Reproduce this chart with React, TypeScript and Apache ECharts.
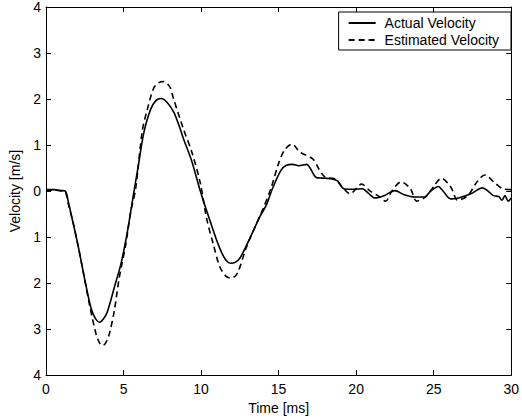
import React, { useEffect, useRef } from "react";
import * as echarts from "echarts";

const seriesNames = ["Actual Velocity", "Estimated Velocity"];
const xTickLabels = ["0", "5", "10", "15", "20", "25", "30"];
const yTickLabels = ["4", "3", "2", "1", "0", "1", "2", "3", "4"];

const actualVelocity: [number, number][] = [
  [0, 0.03], [0.5, 0.03], [1.0, 0.01], [1.25, 0.0], [1.45, -0.25], [1.63, -0.52],
  [2.06, -1.17], [2.48, -1.89], [2.9, -2.54], [3.2, -2.78], [3.44, -2.85], [3.7, -2.78],
  [3.97, -2.61], [4.4, -2.1], [4.82, -1.6], [5.25, -0.88], [5.67, -0.02], [6.0, 0.65],
  [6.31, 1.27], [6.74, 1.77], [7.1, 1.97], [7.42, 2.01], [7.8, 1.93], [8.23, 1.72],
  [8.55, 1.45], [8.87, 1.13], [9.4, 0.65], [9.95, 0.0], [10.6, -0.67], [11.2, -1.24],
  [11.6, -1.5], [11.9, -1.57], [12.2, -1.55], [12.5, -1.46], [12.9, -1.2], [13.35, -0.88],
  [13.8, -0.55], [14.2, -0.31], [14.6, 0.05], [15.15, 0.45], [15.5, 0.56], [15.9, 0.58],
  [16.3, 0.55], [16.8, 0.58], [17.4, 0.3], [17.8, 0.28], [18.3, 0.27], [18.8, 0.22],
  [19.2, 0.05], [19.8, 0.04], [20.4, 0.05], [20.8, -0.05], [21.2, -0.15], [21.8, -0.1],
  [22.5, 0.01], [23.1, -0.08], [23.8, -0.13], [24.4, -0.13], [24.8, 0.0], [25.3, 0.1],
  [25.6, 0.0], [26.1, -0.17], [26.6, -0.15], [27.4, -0.06], [28.15, 0.07], [28.5, 0.0],
  [28.85, -0.1], [29.2, -0.12], [29.4, -0.2], [29.6, -0.1], [29.8, -0.22], [30, -0.15],
];

const estimatedVelocity: [number, number][] = [
  [0, 0.02], [0.5, 0.02], [1.0, 0.0], [1.25, -0.02], [1.45, -0.3], [1.74, -0.67],
  [2.27, -1.53], [2.8, -2.46], [3.23, -3.11], [3.45, -3.3], [3.65, -3.36], [3.85, -3.3],
  [4.08, -3.11], [4.4, -2.61], [4.72, -1.89], [5.14, -1.17], [5.46, -0.45], [5.78, 0.05],
  [6.21, 1.31], [6.53, 1.77], [6.95, 2.24], [7.3, 2.36], [7.6, 2.38], [7.85, 2.32],
  [8.02, 2.24], [8.23, 2.0], [8.87, 1.34], [9.4, 0.85], [9.94, 0.19], [10.36, -0.6],
  [10.8, -1.17], [11.2, -1.64], [11.6, -1.85], [11.9, -1.89], [12.2, -1.85], [12.4, -1.75],
  [12.9, -1.24], [13.35, -0.88], [14.0, -0.38], [14.5, 0.05], [15.0, 0.6], [15.4, 0.9],
  [15.86, 1.02], [16.4, 0.84], [17.2, 0.7], [17.6, 0.48], [18.0, 0.3], [18.6, 0.27],
  [19.2, 0.05], [19.6, -0.06], [20.35, 0.15], [20.9, 0.0], [21.4, -0.1], [21.9, -0.22],
  [22.3, 0.0], [22.9, 0.2], [23.5, 0.05], [23.9, -0.22], [24.5, -0.12], [25.0, 0.1],
  [25.5, 0.28], [26.1, 0.09], [26.55, -0.2], [27.2, -0.1], [27.8, 0.2], [28.3, 0.35],
  [28.9, 0.19], [29.45, 0.05], [30, 0.03],
];

const FONT = "Liberation Sans";

export default function App() {
  const ref = useRef<HTMLDivElement>(null);
  useEffect(() => {
    if (!ref.current) return;
    const chart = echarts.init(ref.current, undefined, { renderer: "svg" });
    const axisLine = { show: true, onZero: false, lineStyle: { color: "#000", width: 1 } };
    const axisTick = { show: true, inside: true, length: 5, lineStyle: { color: "#000", width: 1 } };
    const labelStyle = { color: "#000", fontFamily: FONT, fontSize: 14 };
    chart.setOption({
      animation: false,
      backgroundColor: "#fff",
      grid: { left: 44.5, right: 8, top: 6, bottom: 43, containLabel: false },
      legend: {
        data: seriesNames,
        orient: "vertical",
        right: 11,
        top: 12,
        backgroundColor: "#fff",
        borderColor: "#000",
        borderWidth: 1,
        borderRadius: 0,
        padding: [4, 12, 3, 9],
        itemGap: 3,
        itemWidth: 27,
        itemHeight: 14,
        itemStyle: { color: "rgba(0,0,0,0)", borderWidth: 0, opacity: 0 },
        textStyle: { color: "#000", fontFamily: FONT, fontSize: 14, padding: [0, 0, 0, 4] },
      },
      xAxis: [
        {
          type: "value", min: 0, max: 30, interval: 5, position: "bottom",
          name: "Time [ms]", nameLocation: "middle", nameGap: 17,
          nameTextStyle: { color: "#000", fontFamily: FONT, fontSize: 14 },
          axisLine, axisTick, splitLine: { show: false },
          axisLabel: { ...labelStyle, margin: 7, formatter: (v: number) => xTickLabels[Math.round(v / 5)] ?? "" },
        },
        {
          type: "value", min: 0, max: 30, interval: 5, position: "top",
          axisLine, axisTick, splitLine: { show: false }, axisLabel: { show: false },
        },
      ],
      yAxis: [
        {
          type: "value", min: -4, max: 4, interval: 1, position: "left",
          name: "Velocity [m/s]", nameLocation: "middle", nameGap: 24,
          nameTextStyle: { color: "#000", fontFamily: FONT, fontSize: 14 },
          axisLine, axisTick, splitLine: { show: false },
          axisLabel: { ...labelStyle, margin: 5, formatter: (v: number) => yTickLabels[Math.round(4 - v)] ?? "" },
        },
        {
          type: "value", min: -4, max: 4, interval: 1, position: "right",
          axisLine, axisTick, splitLine: { show: false }, axisLabel: { show: false },
        },
      ],
      series: [
        {
          name: seriesNames[0], type: "line", data: actualVelocity, xAxisIndex: 0, yAxisIndex: 0,
          showSymbol: false, symbol: "none", smooth: 0.3,
          lineStyle: { color: "#000", width: 1.6, type: "solid" },
          itemStyle: { color: "#000" },
        },
        {
          name: seriesNames[1], type: "line", data: estimatedVelocity, xAxisIndex: 0, yAxisIndex: 0,
          showSymbol: false, symbol: "none", smooth: 0.3,
          lineStyle: { color: "#000", width: 1.6, type: [6, 4] },
          itemStyle: { color: "#000" },
        },
      ],
    });
    return () => chart.dispose();
  }, []);
  return (
    <div
      ref={ref}
      style={{ position: "fixed", left: 0, top: 0, width: 522, height: 420 }}
    />
  );
}
